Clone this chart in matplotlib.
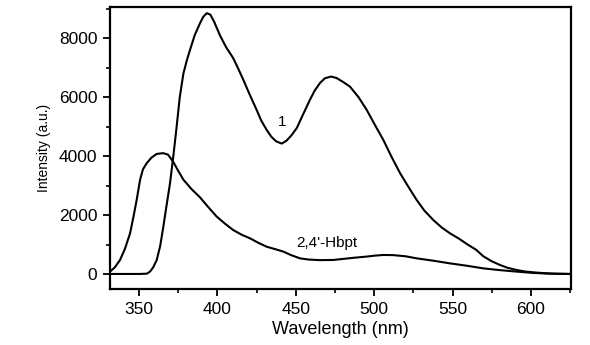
import matplotlib
matplotlib.use("Agg")
import matplotlib.pyplot as plt
from matplotlib.ticker import MultipleLocator

plt.rcParams['font.family'] = ['Liberation Sans', 'DejaVu Sans']

# Compound 1 emission spectrum
wl_1 = [331.5, 340, 350, 355, 357, 359, 361.3, 363.5, 365.5, 367.5, 369.8, 372, 374, 376, 378.3,
        380.5, 382.5, 385.5, 388.9, 391, 393.2, 395.5, 398, 401.6, 405.5, 410, 413, 416.5, 420.5,
        425, 428, 431.4, 434.5, 437.5, 441, 444, 447, 450.6, 454.5, 459, 462, 465.4, 468.5, 472.5,
        476, 480, 484.5, 490, 495.2, 500, 505.8, 511, 516.5, 522, 527.1, 532, 537.7, 543, 548.3,
        554, 559, 565, 569.6, 575, 580.2, 585, 590.9, 596, 601.5, 608, 615, 625.5]
int_1 = [0, 0, 0, 10, 80, 220, 475, 950, 1600, 2300, 3090, 4050, 5000, 6000, 6800,
         7250, 7600, 8100, 8510, 8730, 8850, 8800, 8550, 8100, 7700, 7330, 7000, 6590, 6100,
         5570, 5200, 4890, 4650, 4500, 4425, 4520, 4690, 4950, 5400, 5910, 6220, 6480, 6640, 6700,
         6650, 6520, 6360, 6000, 5570, 5100, 4550, 3980, 3420, 2940, 2510, 2150, 1830, 1580, 1380,
         1200, 1020, 820, 600, 430, 305, 210, 135, 85, 55, 30, 10, 0]

# 2,4'-Hbpt emission spectrum
wl_2 = [331.5, 334.5, 337.9, 341, 344.3, 346.5, 348.5, 350.7, 352.5, 354.9, 358, 361.3, 365.5,
        368.5, 371.9, 375, 378.3, 383.5, 388.9, 394, 399.5, 405, 410.1, 415.5, 420.8, 426, 431.4,
        437, 442, 447, 452.7, 458, 465, 473.9, 480, 487, 495.2, 500, 505.8, 512, 520, 527.1, 537.7,
        548.3, 559, 569.6, 580.2, 590.9, 601.5, 612, 625.5]
int_2 = [80, 220, 475, 850, 1380, 1950, 2510, 3200, 3550, 3760, 3950, 4075, 4100,
         4050, 3800, 3500, 3200, 2880, 2600, 2280, 1950, 1700, 1490, 1330, 1210, 1060, 925,
         840, 760, 640, 530, 490, 470, 475, 510, 550, 590, 620, 645, 640, 600, 530, 450,
         360, 280, 190, 130, 80, 35, 10, 0]

x_ticks = [350, 400, 450, 500, 550, 600]
y_ticks = [0, 2000, 4000, 6000, 8000]

fig = plt.figure(figsize=(5.9, 3.45), dpi=100)
ax = fig.add_axes([110/590, 1 - 289/345, (571-110)/590, (289-7)/345])

ax.plot(wl_1, int_1, color='black', lw=1.5)
ax.plot(wl_2, int_2, color='black', lw=1.5)

ax.set_xlim(331.5, 625.5)
ax.set_ylim(-510, 9060)
ax.set_xticks(x_ticks)
ax.set_yticks(y_ticks)
ax.xaxis.set_minor_locator(MultipleLocator(25))
ax.yaxis.set_minor_locator(MultipleLocator(1000))
ax.tick_params(which='major', direction='out', length=5, width=1.3, labelsize=12.5, pad=4)
ax.tick_params(which='minor', direction='out', length=3, width=1.2)
ax.tick_params(top=False, right=False, which='both')
for s in ax.spines.values():
    s.set_linewidth(1.6)

ax.set_xlabel('Wavelength (nm)', fontsize=13, labelpad=3)
ax.set_ylabel('Intensity (a.u.)', fontsize=10, labelpad=6)

ax.text(441, 5170, '1', fontsize=11, ha='center', va='center')
ax.text(469.7, 1040, "2,4'-Hbpt", fontsize=11, ha='center', va='center')

fig.savefig('out.png', dpi=100)
